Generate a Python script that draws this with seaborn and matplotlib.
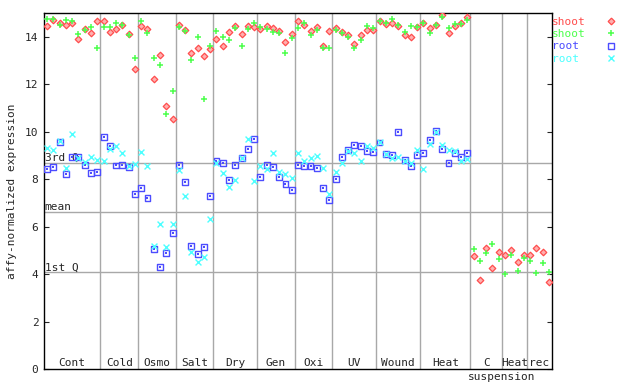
import numpy as np
import seaborn as sns
import matplotlib.pyplot as plt
from matplotlib.lines import Line2D

# conditions along the x axis and number of samples in each
categories = ['Cont', 'Cold', 'Osmo', 'Salt', 'Dry', 'Gen', 'Oxi', 'UV', 'Wound', 'Heat',
              'C', 'Heat', 'rec']
counts = [9, 6, 6, 6, 7, 6, 6, 7, 7, 8, 5, 4, 4]

# shoot replicate 1 (red) / suspension
shoot_red = [14.44, 14.70, 14.58, 14.48, 14.58, 13.89, 14.32, 14.14, 14.65,   # Cont
             14.65, 14.18, 14.31, 14.48, 14.10, 12.66,                        # Cold
             14.47, 14.31, 12.24, 13.25, 11.10, 10.55,                        # Osmo
             14.48, 14.30, 13.30, 13.51, 13.17, 13.50,                        # Salt
             13.89, 13.59, 14.18, 14.44, 14.10, 14.44, 14.39,                 # Dry
             14.31, 14.44, 14.35, 14.23, 13.76, 14.10,                        # Gen
             14.65, 14.48, 14.23, 14.39, 13.63, 14.23,                        # Oxi
             14.35, 14.18, 14.06, 13.68, 14.06, 14.27, 14.27,                 # UV
             14.65, 14.54, 14.60, 14.44, 14.06, 14.01, 14.39,                 # Wound
             14.56, 14.35, 14.48, 14.90, 14.14, 14.44, 14.60, 14.82,          # Heat
             4.77, 3.76, 5.11, 4.26, 4.94,                                    # C
             4.81, 5.02, 4.52, 4.81,                                          # Heat
             4.81, 5.11, 4.94, 3.67]                                          # rec

# shoot replicate 2 (green) / suspension
shoot_green = [14.75, 14.73, 14.48, 14.70, 14.65, 14.10, 14.30, 14.42, 13.52,
               14.39, 14.39, 14.60, 14.48, 14.06, 13.09,
               14.65, 14.14, 13.09, 12.83, 10.76, 11.73,
               14.39, 14.23, 13.04, 14.01, 11.40, 13.63,
               14.23, 14.01, 13.85, 14.35, 13.59, 14.31, 14.60,
               14.39, 14.31, 14.18, 14.14, 13.30, 13.93,
               14.35, 14.56, 14.06, 14.27, 13.51, 13.51,
               14.27, 14.14, 14.01, 13.51, 13.85, 14.44, 14.35,
               14.65, 14.60, 14.73, 14.48, 14.18, 14.44, 14.39,
               14.56, 14.14, 14.48, 14.82, 14.35, 14.52, 14.52, 14.69,
               5.07, 4.56, 4.90, 5.28, 4.64,
               4.01, 4.81, 4.14, 4.69,
               4.56, 4.05, 4.47, 4.09]

# root replicate 1 (blue)
root_blue = [8.45, 8.53, 9.56, 8.23, 8.95, 8.95, 8.61, 8.27, 8.32,
             9.79, 9.40, 8.58, 8.61, 8.53, 7.39,
             7.64, 7.22, 5.07, 4.31, 4.90, 5.74,
             8.61, 7.89, 5.19, 4.85, 5.15, 7.30,
             8.78, 8.70, 7.98, 8.61, 8.89, 9.29, 9.71,
             8.10, 8.61, 8.53, 8.10, 7.81, 7.56,
             8.61, 8.57, 8.57, 8.48, 7.64, 7.13,
             8.02, 8.95, 9.24, 9.46, 9.41, 9.20, 9.16,
             9.55, 9.05, 9.03, 10.00, 8.82, 8.57, 9.03,
             9.12, 9.67, 10.05, 9.29, 8.70, 9.12, 8.95, 9.12]

# root replicate 2 (cyan)
root_cyan = [9.33, 9.25, 9.63, 8.49, 9.89, 8.90, 8.71, 8.92, 8.81,
             8.78, 9.27, 9.40, 9.12, 8.55, 8.65,
             9.16, 8.57, 5.19, 6.12, 5.15, 6.12,
             8.40, 7.30, 4.94, 4.52, 4.73, 6.33,
             8.70, 8.27, 7.68, 7.98, 8.91, 9.71, 7.94,
             8.57, 8.44, 9.12, 8.32, 8.23, 8.06,
             9.12, 8.78, 8.91, 8.99, 8.48, 7.39,
             8.32, 8.70, 9.20, 9.12, 8.78, 9.41, 9.33,
             9.58, 9.07, 8.91, 8.95, 8.78, 8.70, 9.24,
             8.44, 9.50, 10.00, 9.46, 9.24, 9.20, 8.78, 8.86]

# summary lines
quartiles = {'3rd Q': 8.70, 'mean': 6.63, '1st Q': 4.09}

RED, GREEN, BLUE, CYAN = '#ff4c4c', '#4cff4c', '#4c4cff', '#4cffff'
GRID = '#a8a8a8'

sns.set_style('white')
plt.rcParams['font.family'] = ['DejaVu Sans Mono', 'DejaVu Sans']
plt.rcParams['font.size'] = 8

fig = plt.figure(figsize=(6.4, 3.84), dpi=100)
ax = fig.add_axes([44 / 640, 1 - 369.3 / 384, 508 / 640, (369.3 - 13) / 384])

n_total = sum(counts)
x_shoot = np.arange(len(shoot_red)) + 0.5
x_root = np.arange(len(root_blue)) + 0.5

# grid lines
bounds = np.cumsum(counts)
for b in bounds[:-1]:
    ax.axvline(b, color=GRID, lw=1, zorder=1)
for name, q in quartiles.items():
    ax.axhline(q, color=GRID, lw=1, zorder=1)
    ax.text(0.1, q + 0.07, name, ha='left', va='baseline', fontsize=8, zorder=2)

# points
sns.scatterplot(x=x_shoot, y=shoot_red, marker='D', s=11, facecolor='#ffb0b0',
                edgecolor=RED, linewidth=0.9, ax=ax, zorder=3)
sns.scatterplot(x=x_shoot, y=shoot_green, marker='+', s=22, color=GREEN,
                linewidth=1.1, ax=ax, zorder=3)
sns.scatterplot(x=x_root, y=root_blue, marker='s', s=18, facecolor='none',
                edgecolor=BLUE, linewidth=1.0, ax=ax, zorder=3)
sns.scatterplot(x=x_root, y=root_blue, marker='s', s=1.5, color=BLUE,
                linewidth=0, ax=ax, zorder=3)
sns.scatterplot(x=x_root, y=root_cyan, marker='x', s=18, color=CYAN,
                linewidth=1.0, ax=ax, zorder=3)

# category labels
starts = np.concatenate([[0], bounds[:-1]])
for name, s0, c in zip(categories, starts, counts):
    ax.text(s0 + c / 2, 0.12, name, ha='center', va='baseline', fontsize=8)
ax.text(bounds[10], -0.33, 'suspension', ha='center', va='center', fontsize=8,
        clip_on=False)

ax.set_xlim(0, n_total)
ax.set_ylim(0, 15)
ax.set_xticks([])
ax.set_yticks(np.arange(0, 15, 2))
ax.tick_params(axis='y', direction='in', length=3.5, width=0.8, right=True, left=True,
               labelsize=8, pad=4)
for sp in ax.spines.values():
    sp.set_color('black')
    sp.set_linewidth(1.0)
ax.set_ylabel('affy-normalized expression', fontsize=8, labelpad=6)

handles = [
    Line2D([], [], ls='', marker='D', ms=3.4, mfc='#ffb0b0', mec=RED, mew=0.9),
    Line2D([], [], ls='', marker='+', ms=4.7, color=GREEN, mew=1.1),
    Line2D([], [], ls='', marker='s', ms=4.3, mfc='none', mec=BLUE, mew=1.0),
    Line2D([], [], ls='', marker='x', ms=4.3, color=CYAN, mew=1.0),
]
ax.legend(handles, ['shoot', 'shoot', 'root ', 'root '], loc='upper left',
          bbox_to_anchor=(552 / 640, 1 - 17 / 384), bbox_transform=fig.transFigure,
          frameon=False, markerfirst=False, labelcolor=[RED, GREEN, BLUE, CYAN],
          borderpad=0, borderaxespad=0, handlelength=2, handletextpad=1.3,
          labelspacing=0.2, fontsize=8)

fig.savefig('out.png', dpi=100)
